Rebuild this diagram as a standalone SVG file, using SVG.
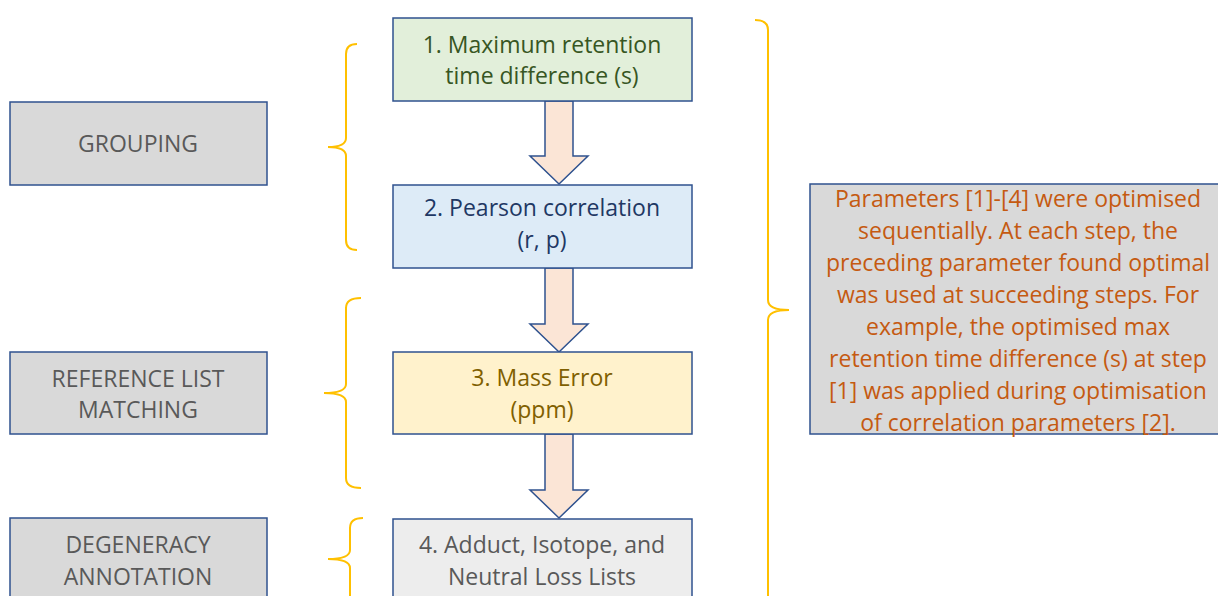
<svg xmlns="http://www.w3.org/2000/svg" width="1218" height="596" viewBox="0 0 1218 596">
<style>
text{font-family:"Open Sans","Liberation Sans",sans-serif;font-size:23px;text-anchor:middle}
.box{stroke:#2F528F;stroke-width:1.5}
.side{fill:#D9D9D9}
.grey{fill:#595959}
.br{fill:none;stroke:#FFC000;stroke-width:2}
.arr{fill:#FBE5D6;stroke:#2F528F;stroke-width:1.5}
.note{fill:#C55A11}
</style>
<rect width="1218" height="596" fill="#FFFFFF"/>
<g id="connectors">
<path class="arr" d="M545,101 L573,101 L573,156 L588,156 L559,184 L530,156 L545,156 Z"/>
<path class="arr" d="M545,268 L573,268 L573,324 L588,324 L559,352 L530,324 L545,324 Z"/>
<path class="arr" d="M545,434 L573,434 L573,490 L588,490 L559,518 L530,490 L545,490 Z"/>
</g>
<g id="brackets">
<path class="br" d="M357,44 Q346,44 346,54 L346,138 Q346,147 328,147 Q346,147 346,156 L346,240 Q346,250 357,250"/>
<path class="br" d="M361,298 Q346,298 346,308 L346,384 Q346,393 324,393 Q346,393 346,402 L346,478 Q346,488 361,488"/>
<path class="br" d="M363,518 Q350,518 350,528 L350,550 Q350,559 328,559 Q350,559 350,568 L350,600"/>
<path class="br" d="M755,20 Q768,20 768,30 L768,300 Q768,310 789,310 Q768,310 768,320 L768,600"/>
</g>
<g id="grouping">
<rect class="box side" x="10" y="102" width="257" height="83"/>
<text class="grey" x="138" y="152">GROUPING</text>
</g>
<g id="reference">
<rect class="box side" x="10" y="352" width="257" height="82"/>
<text class="grey" x="138" y="387">REFERENCE LIST</text>
<text class="grey" x="138" y="418">MATCHING</text>
</g>
<g id="degeneracy">
<rect class="box side" x="10" y="518" width="257" height="90"/>
<text class="grey" x="138" y="553">DEGENERACY</text>
<text class="grey" x="138" y="585">ANNOTATION</text>
</g>
<g id="step1">
<rect class="box" x="393" y="18" width="299" height="83" fill="#E2EFDA"/>
<text fill="#375623" x="542" y="53">1. Maximum retention</text>
<text fill="#375623" x="542" y="84">time difference (s)</text>
</g>
<g id="step2">
<rect class="box" x="393" y="185" width="299" height="83" fill="#DDEBF7"/>
<text fill="#1F3864" x="542" y="216">2. Pearson correlation</text>
<text fill="#1F3864" x="542" y="248">(r, p)</text>
</g>
<g id="step3">
<rect class="box" x="393" y="352" width="299" height="82" fill="#FFF2CC"/>
<text fill="#7F6000" x="542" y="386">3. Mass Error</text>
<text fill="#7F6000" x="542" y="418">(ppm)</text>
</g>
<g id="step4">
<rect class="box" x="393" y="519" width="299" height="90" fill="#EDEDED"/>
<text class="grey" x="542" y="553">4. Adduct, Isotope, and</text>
<text class="grey" x="542" y="585">Neutral Loss Lists</text>
</g>
<g id="note">
<rect class="box side" x="810" y="184" width="420" height="250"/>
<text class="note" x="1018" y="207">Parameters [1]-[4] were optimised</text>
<text class="note" x="1018" y="239">sequentially. At each step, the</text>
<text class="note" x="1018" y="271">preceding parameter found optimal</text>
<text class="note" x="1018" y="303">was used at succeeding steps. For</text>
<text class="note" x="1018" y="335">example, the optimised max</text>
<text class="note" x="1018" y="367">retention time difference (s) at step</text>
<text class="note" x="1018" y="399">[1] was applied during optimisation</text>
<text class="note" x="1018" y="431">of correlation parameters [2].</text>
</g>
</svg>
